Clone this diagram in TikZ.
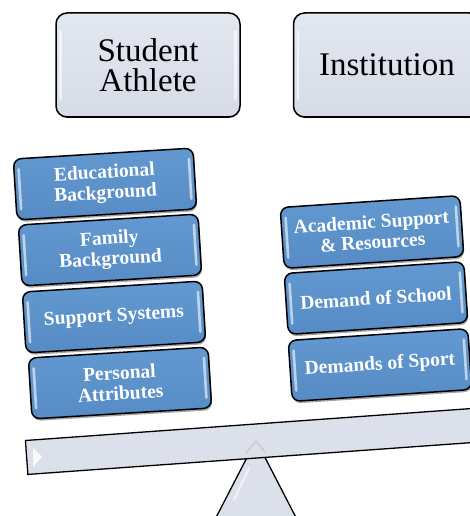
\documentclass[tikz,border=0pt]{standalone}
\usepackage{fontspec}
\setmainfont{Liberation Serif}
\usetikzlibrary{calc,shadows}
\definecolor{boxbluetop}{HTML}{6399D0}
\definecolor{boxbluebot}{HTML}{568BC5}
\definecolor{pale}{HTML}{DCE0EB}
\definecolor{paletop}{HTML}{E3E7F0}
\definecolor{palebot}{HTML}{D6DBE7}
\tikzset{
  headbox/.style={draw=black, line width=1.5pt, rounded corners=11pt,
    top color=paletop, bottom color=palebot,
    minimum width=184pt, minimum height=104pt, align=center, inner sep=0pt,
    font=\fontsize{33}{30}\selectfont, text=black,
    drop shadow={shadow xshift=0.6pt, shadow yshift=-1.2pt, opacity=0.35}},
  bluebox/.style={draw=black, line width=1.5pt, rounded corners=8pt,
    top color=boxbluetop, bottom color=boxbluebot,
    minimum width=180pt, minimum height=61pt, align=center, inner sep=0pt,
    font=\bfseries\fontsize{19.5}{20.5}\selectfont, text=white,
    drop shadow={shadow xshift=0.8pt, shadow yshift=-2.2pt, opacity=0.7}},
  lstack/.style={bluebox, rotate=3.5},
  rstack/.style={bluebox, rotate=3.8},
  gloss/.style={white, line width=2.6pt, line cap=round, opacity=0.6},
  beam/.style={draw=black, line width=1.3pt, fill=pale, minimum width=490pt,
    minimum height=34pt, inner sep=0pt, rotate=4.1},
  fulcrum/.style={draw=black, line width=1.3pt, fill=pale}
}
\newcommand\glossy[2]{%
  \draw[gloss] ($(#1.north west)!0.18!(#1.south west) + #2*(#1.east) - #2*(#1.west)$)
            -- ($(#1.north west)!0.82!(#1.south west) + #2*(#1.east) - #2*(#1.west)$);
  \draw[gloss] ($(#1.north east)!0.18!(#1.south east) - #2*(#1.east) + #2*(#1.west)$)
            -- ($(#1.north east)!0.82!(#1.south east) - #2*(#1.east) + #2*(#1.west)$);
}
\begin{document}
\begin{tikzpicture}[x=1pt,y=-1pt]
\useasboundingbox (0,0) rectangle (470,516);
\clip (0,0) rectangle (470,516);
% top boxes
\node[headbox] (sa) at (148,65) {Student\\Athlete};
\node[headbox, minimum width=187pt] (inst) at (387,65) {Institution};
\glossy{sa}{0.028}
\glossy{inst}{0.028}
% fulcrum
\coordinate (apex) at (256,440);
\coordinate (bl) at (207,535);
\coordinate (br) at (305,535);
\filldraw[fulcrum] (apex) -- (br) -- (bl) -- cycle;
\draw[white, line width=2pt, opacity=0.6, line cap=round] (249,468) -- (234,500);
% beam
\node[beam, anchor=west] (bar) at (26,457.5) {};
\fill[white, opacity=0.85] (33,448) -- (42,456.5) -- (33,467) -- cycle;
\draw[black!25, line width=0.8pt] (246,453) -- (256,441) -- (265,452);
% left stack
\node[lstack] (edu) at (105,184) {Educational\\Background};
\glossy{edu}{0.03}
\node[lstack] (fam) at (110,250) {Family\\Background};
\glossy{fam}{0.03}
\node[lstack] (sup) at (114,317) {Support Systems};
\glossy{sup}{0.03}
\node[lstack] (per) at (120,383) {Personal\\Attributes};
\glossy{per}{0.03}
% right stack
\node[rstack] (aca) at (372,232) {Academic Support\\\& Resources};
\glossy{aca}{0.03}
\node[rstack] (dsc) at (376,298) {Demand of School};
\glossy{dsc}{0.03}
\node[rstack] (dsp) at (380,365) {Demands of Sport};
\glossy{dsp}{0.03}
\end{tikzpicture}
\end{document}
